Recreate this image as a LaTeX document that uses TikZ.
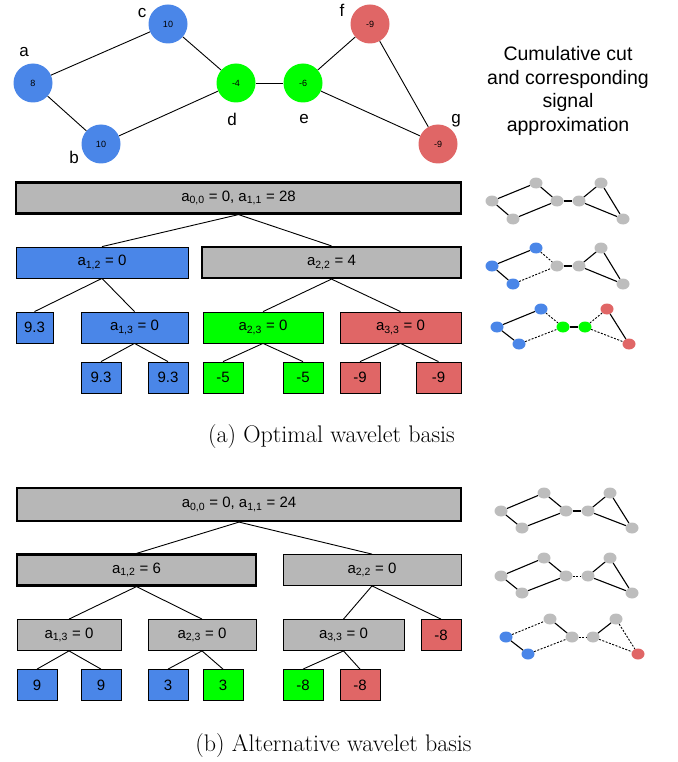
\documentclass[tikz,border=0pt]{standalone}
\usepackage{fontspec}
\setsansfont{Liberation Sans}
\usetikzlibrary{shapes.geometric}
\definecolor{nodeblue}{HTML}{4A86E8}
\definecolor{nodegreen}{HTML}{00FF00}
\definecolor{nodered}{HTML}{E06666}
\definecolor{boxgray}{HTML}{B7B7B7}
\definecolor{dotgray}{HTML}{BDBDBD}

\begin{document}
\begin{tikzpicture}[x=1pt,y=-1pt,
  big node/.style={circle,font=\sffamily\fontsize{9}{9}\selectfont,minimum size=39pt,inner sep=0pt},
  name label/.style={font=\sffamily\fontsize{17}{17}\selectfont,inner sep=0pt},
  coef box/.style={rectangle,draw,line width=0.8pt,font=\sffamily\fontsize{15}{15}\selectfont,minimum height=31pt,inner sep=0pt},
  kept box/.style={coef box,line width=2.2pt},
  dot/.style={ellipse,minimum width=13pt,minimum height=11pt,inner sep=0pt},
  keptedge/.style={line width=1.1pt},
  cutedge/.style={line width=0.9pt,dash pattern=on 2pt off 1.5pt},
  tree edge/.style={line width=0.9pt}]

  \useasboundingbox (0,0) rectangle (677,762);

  % signal on the graph
  \node[big node,fill=nodeblue] (a) at (33,83) {8};
  \node[big node,fill=nodeblue] (b) at (101,144) {10};
  \node[big node,fill=nodeblue] (c) at (168,24) {10};
  \node[big node,fill=nodegreen] (d) at (236,83) {-4};
  \node[big node,fill=nodegreen] (e) at (303,83) {-6};
  \node[big node,fill=nodered] (f) at (370,24) {-9};
  \node[big node,fill=nodered] (g) at (438,144) {-9};

  \node[name label] (la) at (24,52) {a};
  \node[name label] (lb) at (74,157) {b};
  \node[name label] (lc) at (142,13) {c};
  \node[name label] (ld) at (232,119) {d};
  \node[name label] (le) at (304,119) {e};
  \node[name label] (lf) at (342,10) {f};
  \node[name label] (lg) at (456,121) {g};

  \path[line width=0.9pt]
    (a) edge (c)
    (a) edge (b)
    (b) edge (d)
    (c) edge (d)
    (d) edge (e)
    (e) edge (f)
    (e) edge (g)
    (f) edge (g);

  \node[align=center,font=\sffamily\fontsize{19.5}{23.5}\selectfont] (title) at (568,91)
    {Cumulative cut\\and corresponding\\signal\\approximation};

  % (a) optimal basis
  \node[kept box,fill=boxgray,minimum width=445pt] (r1) at (238.5,198)
    {a\textsubscript{0,0} = 0, a\textsubscript{1,1} = 28};
  \node[coef box,fill=nodeblue,minimum width=172pt] (p12) at (102,262.5) {a\textsubscript{1,2} = 0};
  \node[kept box,fill=boxgray,minimum width=259pt] (p22) at (331.5,262.5) {a\textsubscript{2,2} = 4};
  \node[coef box,fill=nodeblue,minimum width=37pt] (c93) at (34.5,327.5) {9.3};
  \node[coef box,fill=nodeblue,minimum width=107pt] (p13) at (134.5,327.5) {a\textsubscript{1,3} = 0};
  \node[coef box,fill=nodegreen,minimum width=120pt] (p23) at (263,327.5) {a\textsubscript{2,3} = 0};
  \node[coef box,fill=nodered,minimum width=121pt] (p33) at (400.5,327.5) {a\textsubscript{3,3} = 0};
  \node[coef box,fill=nodeblue,minimum width=40pt] (v1) at (101,377.5) {9.3};
  \node[coef box,fill=nodeblue,minimum width=40pt] (v2) at (168,377.5) {9.3};
  \node[coef box,fill=nodegreen,minimum width=40pt] (v3) at (223,377.5) {-5};
  \node[coef box,fill=nodegreen,minimum width=40pt] (v4) at (303,377.5) {-5};
  \node[coef box,fill=nodered,minimum width=40pt] (v5) at (360,377.5) {-9};
  \node[coef box,fill=nodered,minimum width=45pt] (v6) at (438.5,377.5) {-9};

  \path[tree edge]
    (r1.south) edge (p12.north)
    (r1.south) edge (p22.north)
    (p12.south) edge (c93.north)
    (p12.south) edge (p13.north)
    (p22.south) edge (p23.north)
    (p22.south) edge (p33.north)
    (p13.south) edge (v1.north)
    (p13.south) edge (v2.north)
    (p23.south) edge (v3.north)
    (p23.south) edge (v4.north)
    (p33.south) edge (v5.north)
    (p33.south) edge (v6.north);

  \node[font=\fontsize{24}{28}\selectfont] (capa) at (331.5,437) {(a) Optimal wavelet basis};

  % (b) alternative basis
  \node[kept box,fill=boxgray,minimum width=444pt,minimum height=33pt] (r2) at (239,504.5)
    {a\textsubscript{0,0} = 0, a\textsubscript{1,1} = 24};
  \node[kept box,fill=boxgray,minimum width=239pt] (q12) at (136.5,570) {a\textsubscript{1,2} = 6};
  \node[coef box,fill=boxgray,minimum width=178pt] (q22) at (372,570) {a\textsubscript{2,2} = 0};
  \node[coef box,fill=boxgray,minimum width=104pt] (q13) at (69,635) {a\textsubscript{1,3} = 0};
  \node[coef box,fill=boxgray,minimum width=108pt] (q23) at (202,635) {a\textsubscript{2,3} = 0};
  \node[coef box,fill=boxgray,minimum width=121pt] (q33) at (343.5,635) {a\textsubscript{3,3} = 0};
  \node[coef box,fill=nodered,minimum width=40pt] (w8) at (441,635) {-8};
  \node[coef box,fill=nodeblue,minimum width=40pt] (u1) at (37,685) {9};
  \node[coef box,fill=nodeblue,minimum width=40pt] (u2) at (101,685) {9};
  \node[coef box,fill=nodeblue,minimum width=40pt] (u3) at (168,685) {3};
  \node[coef box,fill=nodegreen,minimum width=40pt] (u4) at (223,685) {3};
  \node[coef box,fill=nodegreen,minimum width=40pt] (u5) at (303,685) {-8};
  \node[coef box,fill=nodered,minimum width=40pt] (u6) at (360,685) {-8};

  \path[tree edge]
    (r2.south) edge (q12.north)
    (r2.south) edge (q22.north)
    (q12.south) edge (q13.north)
    (q12.south) edge (q23.north)
    (q22.south) edge (q33.north)
    (q22.south) edge (w8.north)
    (q13.south) edge (u1.north)
    (q13.south) edge (u2.north)
    (q23.south) edge (u3.north)
    (q23.south) edge (u4.north)
    (q33.south) edge (u5.north)
    (q33.south) edge (u6.north);

  \node[font=\fontsize{24}{28}\selectfont] (capb) at (333.5,746) {(b) Alternative wavelet basis};

  % cumulative cuts
  \begin{scope}[shift={(492,201)}]
    \foreach \n/\x/\y/\c in {a/0/0/dotgray,b/21/18/dotgray,c/44/-18/dotgray,d/65/0/dotgray,
                             e/87/0/dotgray,f/109/-18/dotgray,g/131/18/dotgray}
      \node[dot,fill=\c] (1\n) at (\x,\y) {};
  \end{scope}
  \foreach \u/\v/\s in {a/c/keptedge,a/b/keptedge,c/d/keptedge,b/d/keptedge,
                        d/e/keptedge,e/f/keptedge,e/g/keptedge,f/g/keptedge}
    \draw[\s] (1\u) -- (1\v);

  \begin{scope}[shift={(492,266)}]
    \foreach \n/\x/\y/\c in {a/0/0/nodeblue,b/21/18/nodeblue,c/44/-18/nodeblue,d/65/0/dotgray,
                             e/87/0/dotgray,f/109/-18/dotgray,g/131/18/dotgray}
      \node[dot,fill=\c] (2\n) at (\x,\y) {};
  \end{scope}
  \foreach \u/\v/\s in {a/c/keptedge,a/b/keptedge,c/d/cutedge,b/d/cutedge,
                        d/e/keptedge,e/f/keptedge,e/g/keptedge,f/g/keptedge}
    \draw[\s] (2\u) -- (2\v);

  \begin{scope}[shift={(497,327)}]
    \foreach \n/\x/\y/\c in {a/0/0/nodeblue,b/22/17/nodeblue,c/44/-18/nodeblue,d/66/0/nodegreen,
                             e/88/0/nodegreen,f/110/-18/nodered,g/132/17/nodered}
      \node[dot,fill=\c] (3\n) at (\x,\y) {};
  \end{scope}
  \foreach \u/\v/\s in {a/c/keptedge,a/b/keptedge,c/d/cutedge,b/d/cutedge,
                        d/e/keptedge,e/f/cutedge,e/g/cutedge,f/g/keptedge}
    \draw[\s] (3\u) -- (3\v);

  \begin{scope}[shift={(501,511)}]
    \foreach \n/\x/\y/\c in {a/0/0/dotgray,b/21/17/dotgray,c/43/-18/dotgray,d/65/0/dotgray,
                             e/87/0/dotgray,f/109/-18/dotgray,g/131/17/dotgray}
      \node[dot,fill=\c] (4\n) at (\x,\y) {};
  \end{scope}
  \foreach \u/\v/\s in {a/c/keptedge,a/b/keptedge,c/d/keptedge,b/d/keptedge,
                        d/e/keptedge,e/f/keptedge,e/g/keptedge,f/g/keptedge}
    \draw[\s] (4\u) -- (4\v);

  \begin{scope}[shift={(501,576)}]
    \foreach \n/\x/\y/\c in {a/0/0/dotgray,b/21/17/dotgray,c/43/-18/dotgray,d/65/0/dotgray,
                             e/87/0/dotgray,f/109/-18/dotgray,g/131/17/dotgray}
      \node[dot,fill=\c] (5\n) at (\x,\y) {};
  \end{scope}
  \foreach \u/\v/\s in {a/c/keptedge,a/b/keptedge,c/d/keptedge,b/d/keptedge,
                        d/e/cutedge,e/f/keptedge,e/g/keptedge,f/g/keptedge}
    \draw[\s] (5\u) -- (5\v);

  \begin{scope}[shift={(506,637)}]
    \foreach \n/\x/\y/\c in {a/0/0/nodeblue,b/22/17/nodeblue,c/44/-18/dotgray,d/66/0/dotgray,
                             e/87/0/dotgray,f/110/-18/dotgray,g/132/17/nodered}
      \node[dot,fill=\c] (6\n) at (\x,\y) {};
  \end{scope}
  \foreach \u/\v/\s in {a/c/cutedge,a/b/keptedge,c/d/keptedge,b/d/cutedge,
                        d/e/cutedge,e/f/keptedge,e/g/cutedge,f/g/cutedge}
    \draw[\s] (6\u) -- (6\v);
\end{tikzpicture}
\end{document}
